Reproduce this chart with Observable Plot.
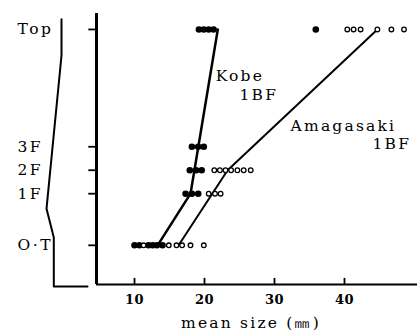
<!DOCTYPE html>
<html>
<head>
<meta charset="utf-8">
<script src="https://cdn.jsdelivr.net/npm/d3@7"></script>
<script src="https://cdn.jsdelivr.net/npm/@observablehq/plot@0.6"></script>
<style>
  html, body { margin: 0; padding: 0; background: #fff; }
  svg text { letter-spacing: 2.2px; }
  g[aria-label="x-axis tick label"] text { letter-spacing: 0.5px; font-weight: bold; }
  g[aria-label="y-axis tick label"] text { letter-spacing: 2.5px; }
  g[aria-label="xlabel"] text { letter-spacing: 2.8px; }
</style>
</head>
<body>
<div id="chart"></div>
<script>
// Floor levels (y) and their relative heights
const levels = ["O·T", "1F", "2F", "3F", "Top"];
const levelHeight = [-1.2, 1, 2, 3, 8];

// Kobe 1BF (filled dots), mean size in mm per level
const kobeOT = [10.0, 10.7, 12.0, 12.6, 13.2, 14.0];
const kobe1F = [17.3, 18.2, 19.1];
const kobe2F = [17.9, 18.8, 19.6];
const kobe3F = [18.2, 19.1, 19.9];
const kobeTop = [19.2, 19.9, 20.6, 21.3, 35.9];

// Amagasaki 1BF (open circles)
const amaOT = [11.3, 14.9, 16.0, 16.8, 18.0, 19.9];
const ama1F = [20.6, 21.5, 22.3];
const ama2F = [21.4, 22.2, 23.0, 23.8, 24.7, 25.6, 26.6];
const ama3F = [];
const amaTop = [40.4, 41.3, 42.3, 44.7, 46.7, 48.5];

// Fitted lines
const kobeLineLevel = ["O·T", "1F", "Top"];
const kobeLineSize = [13.3, 18.0, 21.9];
const amaLineLevel = ["O·T", "2F", "Top"];
const amaLineSize = [16.3, 23.3, 44.7];

// Building silhouette profile at left
const profileX = [-0.43, -0.43, -2.57, -1.53, -1.53, 3.29];
const profileY = [8.43, 6.89, 0.36, -0.87, -2.96, -2.96];

// Annotations
const annoText = ["Kobe", "1BF", "Amagasaki", "1BF"];
const annoX = [21.6, 25.0, 32.3, 44.0];
const annoY = [6.02, 5.22, 3.9, 3.13];

const xTicks = [10, 20, 30, 40];
const xLabel = "mean size (㎜)";

const hOf = l => levelHeight[levels.indexOf(l)];
const kobeSets = [kobeOT, kobe1F, kobe2F, kobe3F, kobeTop];
const amaSets = [amaOT, ama1F, ama2F, ama3F, amaTop];
const kobePts = kobeSets.flatMap((arr, i) => arr.map(s => ({size: s, h: levelHeight[i]})));
const amaPts = amaSets.flatMap((arr, i) => arr.map(s => ({size: s, h: levelHeight[i]})));
const kobeLine = kobeLineSize.map((s, i) => ({size: s, h: hOf(kobeLineLevel[i])}));
const amaLine = amaLineSize.map((s, i) => ({size: s, h: hOf(amaLineLevel[i])}));
const profile = profileX.map((x, i) => ({x, y: profileY[i]}));
const annos = annoText.map((t, i) => ({t, x: annoX[i], y: annoY[i]}));

const xDomain = [4.57, 50.43];
const yDomain = [-2.87, 8.68];
const font = "DejaVu Serif";
const yTickLen = 1.1;   // in x units (≈ 7 px)
const xTickLen = 0.26;  // in y units (≈ 6 px)

const chart = Plot.plot({
  width: 417,
  height: 336,
  marginLeft: 96,
  marginRight: 0,
  marginTop: 13,
  marginBottom: 52,
  style: {background: "#fff", fontFamily: font, fontSize: "15px", color: "#000"},
  x: {domain: xDomain},
  y: {domain: yDomain},
  marks: [
    // y tick marks (outside, to the left of the axis)
    Plot.ruleY(levelHeight, {y: d => d, x1: xDomain[0] - yTickLen, x2: xDomain[0], stroke: "#000", strokeWidth: 1.8}),
    // y tick labels, left-aligned at far left
    Plot.axisY(levelHeight, {
      tickSize: 0, tickPadding: 0,
      tickFormat: d => levels[levelHeight.indexOf(d)],
      textAnchor: "start", dx: -79, fontSize: 15.5, label: null
    }),
    // x tick marks pointing up into the plot
    Plot.ruleX(xTicks, {x: d => d, y1: yDomain[0], y2: yDomain[0] + xTickLen, stroke: "#000", strokeWidth: 1.8}),
    // x tick labels
    Plot.axisX(xTicks, {tickSize: 0, tickPadding: 10, fontSize: 13, label: null}),
    Plot.ruleX([xDomain[0]], {strokeWidth: 3, stroke: "#000"}),
    Plot.ruleY([yDomain[0]], {strokeWidth: 2, stroke: "#000"}),
    Plot.line(profile, {x: "x", y: "y", strokeWidth: 2, stroke: "#000"}),
    Plot.line(kobeLine, {x: "size", y: "h", strokeWidth: 2.5, stroke: "#000"}),
    Plot.line(amaLine, {x: "size", y: "h", strokeWidth: 2, stroke: "#000"}),
    Plot.dot(kobePts, {x: "size", y: "h", r: 3.3, fill: "#000", stroke: "none"}),
    Plot.dot(amaPts, {x: "size", y: "h", r: 2.3, fill: "#fff", stroke: "#000", strokeWidth: 1.3}),
    Plot.text(annos, {x: "x", y: "y", text: "t", textAnchor: "start", fontSize: 15.5}),
    Plot.text([xLabel], {frameAnchor: "bottom", dy: 43, dx: -6, fontSize: 15.5, ariaLabel: "xlabel"})
  ]
});
document.getElementById("chart").appendChild(chart);
</script>
</body>
</html>
